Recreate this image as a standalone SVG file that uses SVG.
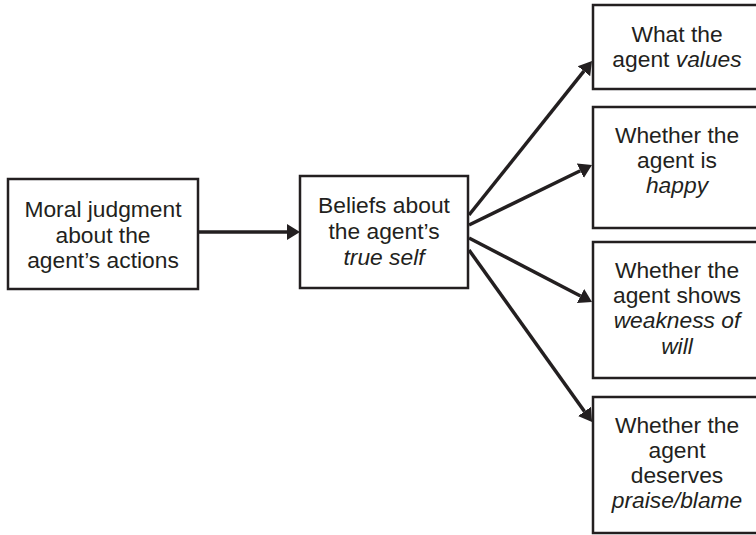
<svg xmlns="http://www.w3.org/2000/svg" width="756" height="535" viewBox="0 0 756 535">
<style>
.box{fill:#fff;stroke:#231f20;stroke-width:2.5}
.t{font-family:"Liberation Sans",Arial,sans-serif;font-size:22.8px;fill:#231f20;text-anchor:middle}
.i{font-style:italic}
.c{stroke:#231f20;stroke-width:3.5;fill:none}
</style>
<defs>
<marker id="ah" markerUnits="userSpaceOnUse" markerWidth="16" markerHeight="18" viewBox="0 -9 16 18" refX="0" refY="0" orient="auto">
<path d="M0,-8 L13,0 L0,8 Z" fill="#231f20"/>
</marker>
</defs>
<rect width="756" height="535" fill="#fff"/>
<g id="connectors">
<line class="c" x1="198" y1="232" x2="287" y2="232" marker-end="url(#ah)"/>
<line class="c" x1="469" y1="215" x2="583.9" y2="71.2" marker-end="url(#ah)"/>
<line class="c" x1="469" y1="225" x2="580.3" y2="170.7" marker-end="url(#ah)"/>
<line class="c" x1="469" y1="238" x2="580.5" y2="296" marker-end="url(#ah)"/>
<line class="c" x1="469" y1="250" x2="584.5" y2="411.4" marker-end="url(#ah)"/>
</g>
<g id="moral">
<rect class="box" x="8" y="179" width="190" height="110"/>
<text class="t" x="103" y="216.7">Moral judgment</text>
<text class="t" x="103" y="242.5">about the</text>
<text class="t" x="103" y="268.3">agent’s actions</text>
</g>
<g id="beliefs">
<rect class="box" x="300" y="176" width="168" height="112"/>
<text class="t" x="384" y="212.7">Beliefs about</text>
<text class="t" x="384" y="239">the agent’s</text>
<text class="t i" x="384" y="264.5">true self</text>
</g>
<g id="values">
<rect class="box" x="593" y="5" width="170" height="84"/>
<text class="t" x="677" y="41.7">What the</text>
<text class="t" x="677" y="66.7">agent <tspan class="i">values</tspan></text>
</g>
<g id="happy">
<rect class="box" x="593" y="107" width="170" height="121"/>
<text class="t" x="677" y="143.3">Whether the</text>
<text class="t" x="677" y="168.3">agent is</text>
<text class="t i" x="677" y="193.3">happy</text>
</g>
<g id="weakness">
<rect class="box" x="593" y="242" width="170" height="136"/>
<text class="t" x="677" y="278.3">Whether the</text>
<text class="t" x="677" y="303.3">agent shows</text>
<text class="t i" x="677" y="328.3">weakness of</text>
<text class="t i" x="677" y="354">will</text>
</g>
<g id="praise">
<rect class="box" x="593" y="397" width="170" height="136"/>
<text class="t" x="677" y="433.3">Whether the</text>
<text class="t" x="677" y="458.3">agent</text>
<text class="t" x="677" y="483.3">deserves</text>
<text class="t i" x="677" y="508.3">praise/blame</text>
</g>
</svg>
